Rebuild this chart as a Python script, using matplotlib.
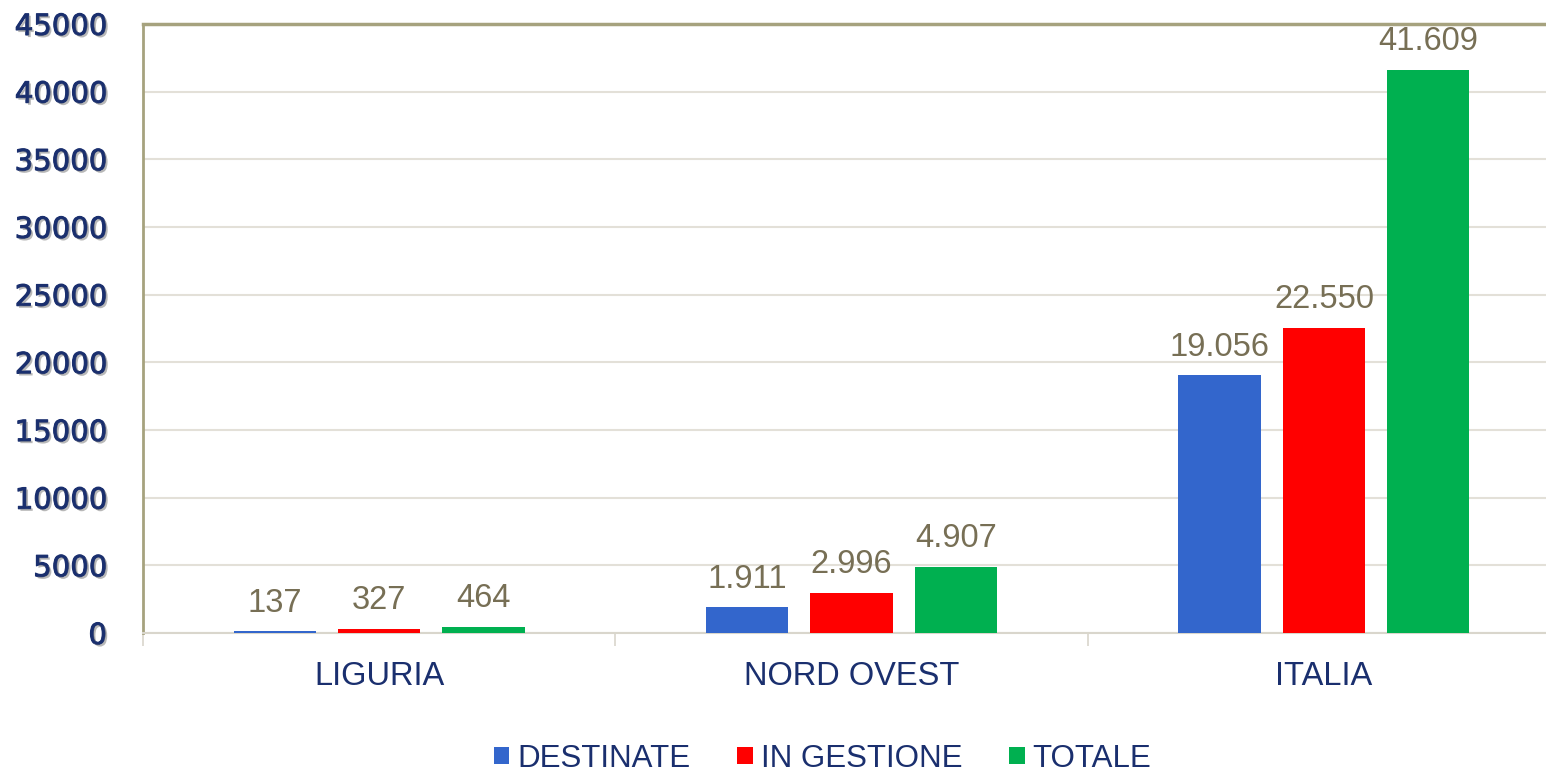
import matplotlib.pyplot as plt
import matplotlib.patheffects as pe
import numpy as np

categorie = ["LIGURIA", "NORD OVEST", "ITALIA"]
serie = ["DESTINATE", "IN GESTIONE", "TOTALE"]
destinate = [137, 1911, 19056]
in_gestione = [327, 2996, 22550]
totale = [464, 4907, 41609]
colori = ["#3366cc", "#ff0000", "#00b050"]

navy = "#1a2f6e"
etichetta = "#776f55"

fig = plt.figure(figsize=(15.46, 7.74), dpi=100)
ax = fig.add_axes([0.0925, 0.182, 0.9075, 0.787])

x = np.arange(len(categorie))
w = 0.174
passo = 0.221
valori = [destinate, in_gestione, totale]
for i, (nome, vals, col) in enumerate(zip(serie, valori, colori)):
    barre = ax.bar(x + (i - 1) * passo, vals, w, color=col, label=nome, zorder=3)
    for b, v in zip(barre, vals):
        testo = f"{v:,}".replace(",", ".")
        ax.annotate(testo, (b.get_x() + b.get_width() / 2, v),
                    xytext=(0, 9), textcoords="offset points",
                    ha="center", va="bottom", fontsize=23.5,
                    color=etichetta, family="Liberation Sans")

ax.set_ylim(0, 45000)
ax.set_yticks(range(0, 45001, 5000))
ax.set_xlim(-0.5, 2.47)
ax.set_xticks(x)
ax.set_xticklabels(categorie, fontsize=23.5, color=navy, family="Liberation Sans")
ax.set_xticks([-0.5, 0.5, 1.5], minor=True)
ax.tick_params(axis="x", which="major", length=0, pad=20)
ax.tick_params(axis="x", which="minor", length=9, color="#d9d6cc", width=1.2)
ax.tick_params(axis="y", length=0, pad=26, labelsize=21, labelcolor=navy)
for t in ax.get_yticklabels():
    t.set_path_effects([pe.Stroke(linewidth=0.8, foreground=navy),
                        pe.SimplePatchShadow(offset=(1.5, -1.5), shadow_rgbFace="#8a8a8a", alpha=0.6),
                        pe.Normal()])

ax.grid(axis="y", color="#e3e0d8", linewidth=1.5, zorder=0)
ax.spines["right"].set_visible(False)
ax.spines["left"].set_color("#a6a27e")
ax.spines["left"].set_linewidth(2)
ax.spines["top"].set_color("#a6a27e")
ax.spines["top"].set_linewidth(2.5)
ax.spines["bottom"].set_color("#d9d6cc")
ax.spines["bottom"].set_linewidth(1.5)

leg = fig.legend(loc="center", bbox_to_anchor=(0.532, 0.02), ncol=3, frameon=False,
                 fontsize=22.5, handlelength=0.5, handleheight=0.5,
                 handletextpad=0.25, columnspacing=1.5, borderpad=0)
for t in leg.get_texts():
    t.set_color(navy)
    t.set_family("Liberation Sans")

fig.savefig("out.png", dpi=100)
